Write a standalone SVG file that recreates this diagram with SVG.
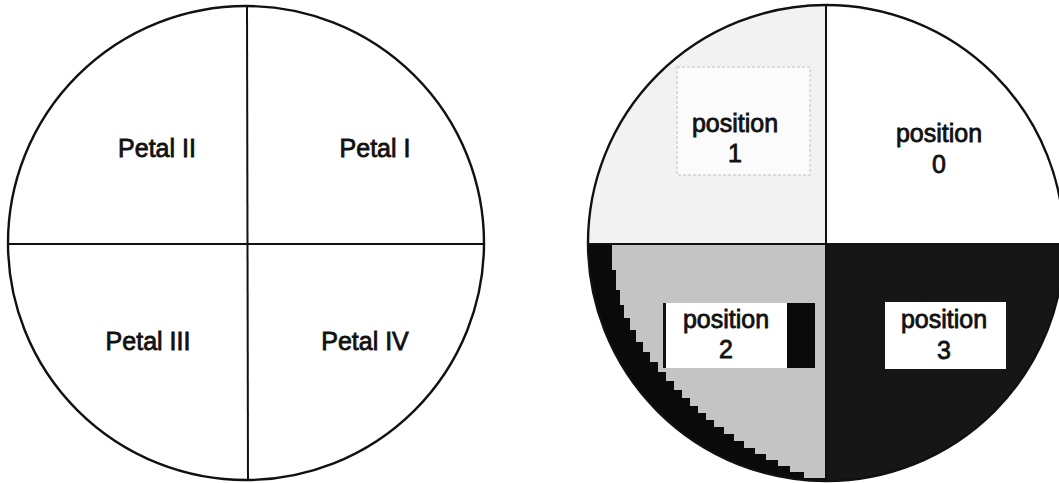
<svg xmlns="http://www.w3.org/2000/svg" width="1059" height="483" viewBox="0 0 1059 483">
<style>
.t{font-family:"Liberation Sans",Arial,sans-serif;font-size:25px;fill:#111;stroke:#111;stroke-width:0.8;text-anchor:middle}
.ln{stroke:#111;stroke-width:2;fill:none}
.rim{stroke:#111;stroke-width:2.4;fill:none}
</style>
<defs>
<clipPath id="rc"><circle cx="826" cy="243" r="238"/></clipPath>
</defs>
<rect width="1059" height="483" fill="#fff"/>
<!-- left diagram -->
<g id="left-circle">
<ellipse class="rim" cx="246" cy="243" rx="238" ry="237"/>
</g>
<g id="petal-I"><text class="t" x="375" y="157">Petal I</text></g>
<g id="petal-II"><text class="t" x="157" y="157">Petal II</text></g>
<g id="petal-III"><text class="t" x="148" y="350">Petal III</text></g>
<g id="petal-IV"><text class="t" x="365" y="350">Petal IV</text></g>
<!-- right diagram -->
<g id="right-quadrants" clip-path="url(#rc)">
<rect x="588" y="5" width="238" height="239" fill="#f2f2f2"/>
<rect x="826" y="5" width="240" height="239" fill="#fff"/>
<rect x="588" y="244" width="238" height="240" fill="#c4c4c4"/>
<rect x="826" y="244" width="240" height="240" fill="#161616"/>
<polygon fill="#0a0a0a" points="580,244 612,244 612,270 616,270 616,290 620,290 620,305 624,305 624,318 630,318 630,330 636,330 636,342 643,342 643,352 650,352 650,362 658,362 658,372 666,372 666,381 674,381 674,390 682,390 682,398 690,398 690,406 698,406 698,413 706,413 706,420 714,420 714,427 724,427 724,434 734,434 734,441 744,441 744,448 755,448 755,454 766,454 766,460 778,460 778,466 790,466 790,472 804,472 804,478 826,478 826,490 580,490"/>
</g>
<g id="right-circle">
<circle class="rim" cx="826" cy="243" r="238"/>
</g>
<g id="position-0">
<text class="t" x="939" y="142">position</text>
<text class="t" x="939" y="173">0</text>
</g>
<g id="position-1">
<rect x="677" y="67" width="133" height="108" fill="#fbfbfb" stroke="#d4d4d4" stroke-width="1.5" stroke-dasharray="3 2"/>
<text class="t" x="735" y="132">position</text>
<text class="t" x="735" y="162">1</text>
</g>
<g id="position-2">
<rect x="663" y="303" width="152" height="65" fill="#fff"/>
<rect x="663" y="303" width="3" height="65" fill="#111"/>
<rect x="787" y="303" width="28" height="65" fill="#0a0a0a"/>
<text class="t" x="726" y="328">position</text>
<text class="t" x="726" y="358">2</text>
</g>
<g id="position-3">
<rect x="885" y="302" width="121" height="67" fill="#fff"/>
<text class="t" x="944" y="328">position</text>
<text class="t" x="944" y="359">3</text>
</g>
<g id="connectors">
<line class="ln" x1="247" y1="6" x2="248" y2="480"/>
<line class="ln" x1="8" y1="244" x2="484" y2="244"/>
<line class="ln" x1="826" y1="5" x2="826" y2="481"/>
<line class="ln" x1="588" y1="244" x2="1059" y2="244"/>
</g>
</svg>
